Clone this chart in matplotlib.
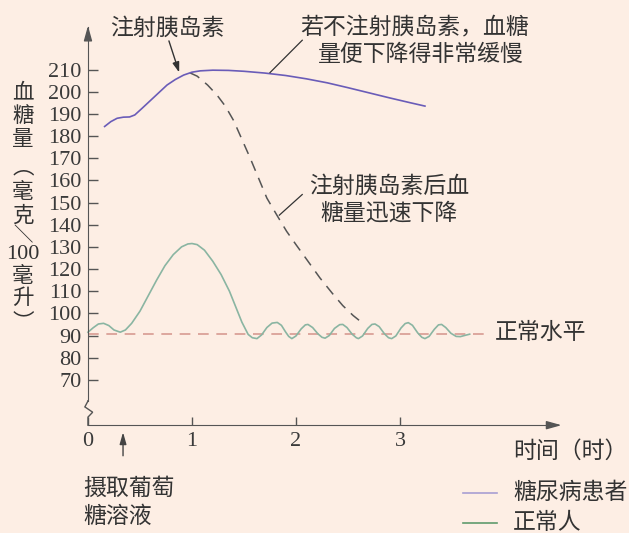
import matplotlib
matplotlib.use("Agg")
import matplotlib.pyplot as plt

plt.rcParams['font.family'] = ['Noto Sans CJK SC', 'DejaVu Sans']

# 糖尿病患者 (時間, 血糖量)
diab_t = [0.16, 0.22, 0.28, 0.34, 0.40, 0.45, 0.52, 0.60, 0.68, 0.76, 0.84, 0.92,
          1.00, 1.08, 1.20, 1.35, 1.50, 1.70, 1.90, 2.10, 2.30, 2.50, 2.70, 2.90,
          3.10, 3.24]
diab_v = [184.3, 186.5, 188.0, 188.5, 188.6, 189.5, 192.5, 196.0, 199.5, 203.0,
          205.5, 207.5, 208.8, 209.4, 209.7, 209.6, 209.2, 208.4, 207.3, 205.8,
          204.0, 201.8, 199.5, 197.2, 195.0, 193.5]

# 注射胰岛素後
insulin_t = [0.98, 1.05, 1.15, 1.24, 1.32, 1.40, 1.48, 1.56, 1.64, 1.72, 1.82,
             1.91, 2.00, 2.10, 2.23, 2.35, 2.45, 2.55, 2.63]
insulin_v = [208.5, 207.0, 203.0, 198.5, 193.5, 187.0, 178.5, 170.0, 161.0, 152.0,
             144.0, 137.0, 131.0, 124.5, 116.0, 109.0, 103.5, 99.0, 96.0]

# 正常人
norm_t = [0.00, 0.05, 0.10, 0.15, 0.20, 0.25, 0.31, 0.36, 0.42, 0.50, 0.58, 0.66,
          0.74, 0.82, 0.90, 0.96, 1.00, 1.05, 1.12, 1.20, 1.28, 1.36, 1.42, 1.48,
          1.54, 1.58, 1.625, 1.67, 1.72, 1.77, 1.82, 1.86, 1.90, 1.93, 1.96, 2.00,
          2.05, 2.09, 2.115, 2.16, 2.21, 2.25, 2.28, 2.32, 2.37, 2.42, 2.45, 2.49,
          2.54, 2.58, 2.60, 2.64, 2.69, 2.73, 2.76, 2.80, 2.85, 2.89, 2.92, 2.96,
          3.01, 3.05, 3.08, 3.12, 3.17, 3.21, 3.24, 3.28, 3.33, 3.37, 3.40, 3.44,
          3.49, 3.54, 3.58, 3.62, 3.67]
norm_v = [91.5, 93.5, 95.2, 95.5, 94.5, 92.5, 91.5, 92.5, 95.5, 101.0, 108.0, 115.0,
          121.5, 126.5, 130.0, 131.3, 131.5, 131.0, 128.5, 123.5, 117.5, 110.0, 103.0,
          96.0, 90.5, 89.0, 88.6, 90.3, 93.6, 95.6, 95.9, 94.6, 91.6, 89.6, 88.6, 89.8,
          93.0, 94.8, 95.0, 93.6, 90.8, 89.2, 88.8, 90.0, 93.2, 94.9, 95.0, 93.6,
          90.6, 89.0, 88.6, 89.8, 93.2, 95.0, 95.2, 94.0, 90.8, 89.0, 88.6, 89.8,
          93.4, 95.4, 95.8, 94.6, 91.2, 89.2, 88.6, 89.6, 92.8, 94.8, 95.0, 93.6,
          91.0, 89.6, 89.5, 90.0, 90.6]

normal_level = 90.9
yticks = list(range(70, 220, 10))
xticks = [0, 1, 2, 3]

bg = '#fdeee4'
txt = '#333333'
axc = '#555555'

fig = plt.figure(figsize=(6.29, 5.33), dpi=100, facecolor=bg)
ax = fig.add_axes([0, 0, 1, 1], facecolor=bg)
ax.set_xlim(-0.846, 5.202)
ax.set_ylim(0.909, 241.36)

x_base = 49.55
# 坐标轴
for s in ['top', 'right']:
    ax.spines[s].set_visible(False)
ax.spines['left'].set_position(('data', 0))
ax.spines['bottom'].set_position(('data', x_base))
ax.spines['left'].set_bounds(60.45, 229)
ax.spines['bottom'].set_bounds(0, 4.5)
ax.spines['left'].set_color(axc)
ax.spines['bottom'].set_color(axc)
ax.set_yticks(yticks)
ax.set_yticklabels([str(v) for v in yticks])
ax.set_xticks(xticks)
ax.set_xticklabels([str(v) for v in xticks])
ax.tick_params(axis='y', direction='in', length=7.5, width=1, color=axc, pad=4.5,
               labelsize=16, labelcolor='#3a3a3a')
ax.tick_params(axis='x', direction='in', length=6, width=1, color=axc, pad=5,
               labelsize=16, labelcolor='#3a3a3a')
for lab in ax.get_xticklabels() + ax.get_yticklabels():
    lab.set_family('Liberation Serif')

# 断轴
ax.plot([0, 0, 0.045, -0.03, 0, 0], [x_base, 53.2, 55.4, 57.8, 60.45, 60.6],
        color=axc, lw=1, solid_joinstyle='miter')
# 箭头
ax.annotate('', xy=(0, 231), xytext=(0, 226),
            arrowprops=dict(arrowstyle='-|>,head_length=0.9,head_width=0.25',
                            color=axc, lw=1))
ax.annotate('', xy=(4.58, x_base), xytext=(4.45, x_base),
            arrowprops=dict(arrowstyle='-|>,head_length=0.9,head_width=0.25',
                            color=axc, lw=1))

# 曲线
ax.plot([0, 3.84], [normal_level, normal_level], color='#d4938a', lw=1.1,
        dashes=(7, 5))
ax.plot(norm_t, norm_v, color='#8ab5a2', lw=1.2)
ax.plot(insulin_t, insulin_v, color='#555555', lw=1.1, dashes=(7, 5))
ax.plot(diab_t, diab_v, color='#6a5cb8', lw=1.2)

# 注释
fs = 16.5
ax.text(0.76, 228.6, '注射胰岛素', fontsize=fs, color=txt, ha='center', va='center')
ax.annotate('', xy=(0.885, 207.5), xytext=(0.77, 224.1),
            arrowprops=dict(arrowstyle='-|>,head_length=0.6,head_width=0.2',
                            color='#333333', lw=1))
ax.text(3.14, 228.6, '若不注射胰岛素，血糖', fontsize=fs, color=txt, ha='center', va='center')
ax.text(3.20, 216.8, '量便下降得非常缓慢', fontsize=fs, color=txt, ha='center', va='center')
ax.plot([2.06, 1.75], [223.2, 208.6], color='#333333', lw=0.9)

ax.text(2.90, 157.3, '注射胰岛素后血', fontsize=fs, color=txt, ha='center', va='center')
ax.text(2.89, 145.0, '糖量迅速下降', fontsize=fs, color=txt, ha='center', va='center')
ax.plot([2.06, 1.84], [153.6, 144.3], color='#333333', lw=0.9)

ax.text(3.91, 91.4, '正常水平', fontsize=fs, color=txt, ha='left', va='center')
ax.text(4.09, 37.7, '时间（时）', fontsize=fs, color=txt, ha='left', va='center')

ax.text(-0.048, 20.9, '摄取葡萄', fontsize=fs, color=txt, ha='left', va='center')
ax.text(-0.048, 8.2, '糖溶液', fontsize=fs, color=txt, ha='left', va='center')
ax.annotate('', xy=(0.337, 47.6), xytext=(0.337, 34.5),
            arrowprops=dict(arrowstyle='-|>,head_length=0.7,head_width=0.2',
                            color='#444444', lw=1))

# 图例
ax.plot([3.606, 3.93], [19.1, 19.1], color='#a89ed2', lw=1.2)
ax.text(4.087, 19.1, '糖尿病患者', fontsize=fs, color=txt, ha='left', va='center')
ax.plot([3.606, 3.93], [5.6, 5.6], color='#5f9a6c', lw=1.2)
ax.text(4.087, 5.6, '正常人', fontsize=fs, color=txt, ha='left', va='center')

# 纵轴标题（竖排）
ylab = [('血', 92), ('糖', 115), ('量', 138), ('︵', 166), ('毫', 191),
        ('克', 214), ('＼', 234), ('100', 253), ('毫', 274), ('升', 296), ('︶', 320)]
for ch, ypx in ylab:
    if ch == '100':
        fam = ['Liberation Serif']
        size = 16
    else:
        fam = ['Noto Sans CJK SC', 'DejaVu Sans']
        size = 14 if ch == '＼' else 15.5
    ax.text(-0.625, 90 + (333 - ypx) / 2.2, ch, fontsize=size,
            color=txt, ha='center', va='center', family=fam)

fig.savefig('out.png', dpi=100, facecolor=bg)
